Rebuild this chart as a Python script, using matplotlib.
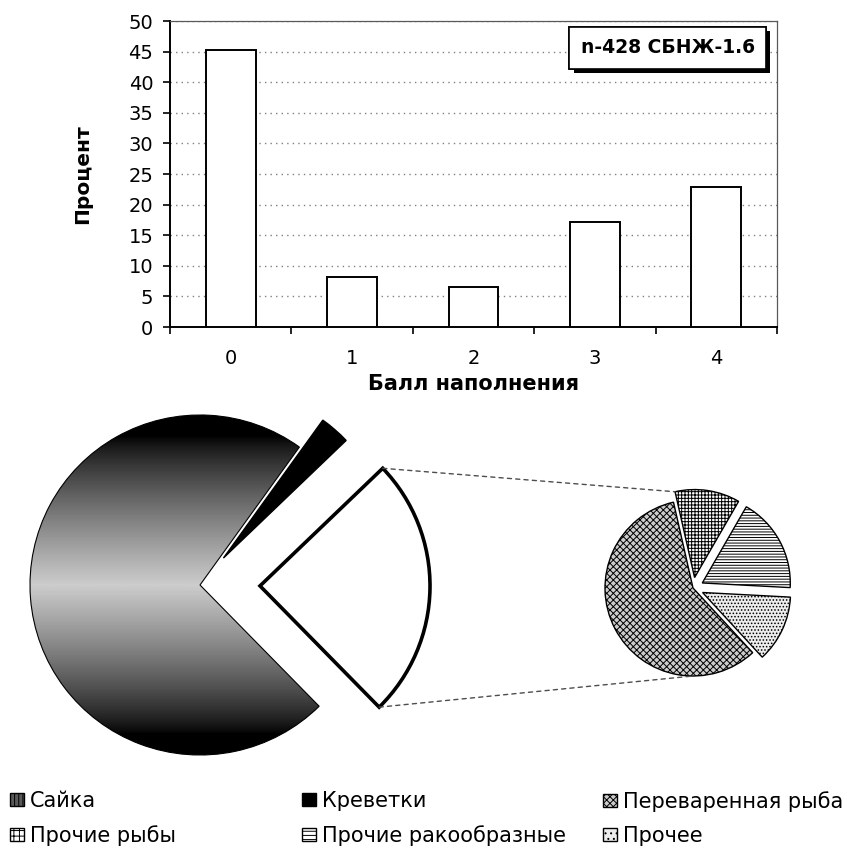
import numpy as np
import matplotlib.pyplot as plt
from matplotlib.patches import Patch, ConnectionPatch
import matplotlib.patheffects as pe

plt.rcParams['font.family'] = ['DejaVu Sans']
plt.rcParams['hatch.linewidth'] = 0.7

# гистограмма: балл наполнения желудков
bally = [0, 1, 2, 3, 4]
procent = [45.3, 8.1, 6.6, 17.2, 22.9]
podpis = 'n-428 СБНЖ-1.6'

# основной круг
main_labels = ['Сайка', 'Креветки', 'Прочие']
main_vals = [72.3, 2.9, 24.8]

# вторичный круг (разбивка сектора "Прочие")
sub_labels = ['Переваренная рыба', 'Прочие рыбы', 'Прочие ракообразные', 'Прочее']
sub_vals = [58.3, 11.9, 17.5, 12.3]

W, H = 846, 855
fig = plt.figure(figsize=(W / 100, H / 100), dpi=100)


def box(x0, y0, x1, y1):
    # прямоугольник в пикселях (отсчёт сверху) -> доли фигуры
    return [x0 / W, 1 - y1 / H, (x1 - x0) / W, (y1 - y0) / H]


# ---- столбики ----
ax = fig.add_axes(box(170, 21, 777, 327))
ax.bar(bally, procent, width=0.41, color='white', edgecolor='black', linewidth=1.4, zorder=3)
ax.set_xlim(-0.5, 4.5)
ax.set_ylim(0, 50)
ax.set_yticks(range(0, 51, 5))
ax.set_xticks(np.arange(-0.5, 5, 1))
ax.set_xticklabels([])
ax.set_xticks(bally, minor=True)
ax.set_xticklabels([str(b) for b in bally], minor=True)
ax.tick_params(axis='x', which='minor', length=0, pad=16, labelsize=14)
ax.tick_params(axis='x', which='major', length=5, width=1.2, direction='out')
ax.tick_params(axis='y', length=5, width=1.2, pad=7, labelsize=14)
ax.yaxis.grid(True, linestyle=(0, (1, 3)), color='0.5', linewidth=1)
ax.set_axisbelow(True)
for s in ['left', 'bottom']:
    ax.spines[s].set_linewidth(1.4)
for s in ['top', 'right']:
    ax.spines[s].set_linewidth(0.9)
    ax.spines[s].set_color('0.35')
ax.set_ylabel('Процент', fontsize=14.5, fontweight='bold')
ax.yaxis.set_label_coords(-0.128, 0.5)
ax.set_xlabel('Балл наполнения', fontsize=15, fontweight='bold')
ax.xaxis.set_label_coords(0.5, -0.155)

t = ax.text(0.82, 0.912, podpis, transform=ax.transAxes, ha='center', va='center',
            fontsize=13.5, fontweight='bold',
            bbox=dict(boxstyle='square,pad=0.6', fc='white', ec='black', lw=1.2))
t.get_bbox_patch().set_path_effects([
    pe.withSimplePatchShadow(offset=(3, -3), shadow_rgbFace='black', alpha=1.0),
    pe.Normal()])

# ---- основной круг ----
pa = fig.add_axes(box(0, 395, 460, 770))
wedges, _ = pa.pie(main_vals, radius=1, startangle=-45.5, counterclock=False,
                   explode=[0, 0.21, 0.353],
                   colors=['none', 'black', 'white'],
                   wedgeprops=dict(edgecolor='black', linewidth=1))
wedges[0].set_linewidth(0.8)
wedges[2].set_linewidth(2.6)
pa.set_xlim(-200 / 170, 260 / 170)
pa.set_ylim(-185 / 170, 190 / 170)
pa.set_aspect('equal')
pa.axis('off')

# градиент сектора "Сайка"
yy = np.linspace(-1, 1, 300)
grad = 0.8 * np.clip(1 - np.abs(yy) / 0.88, 0, 1) ** 0.8
img = np.tile(grad[:, None], (1, 10))
im = pa.imshow(img, extent=(-1, 1, -1, 1), origin='lower', cmap='gray',
               vmin=0, vmax=1, aspect='auto', zorder=0)
im.set_clip_path(wedges[0])

# ---- вторичный круг ----
sa = fig.add_axes(box(560, 470, 846, 720))
sw, _ = sa.pie(sub_vals, radius=1, startangle=-47.3, counterclock=False,
               explode=[0, 0.12, 0.12, 0.12],
               colors=['white', 'white', 'white', 'white'],
               hatch=['xxxxx', '+++++', '------', '.....'],
               wedgeprops=dict(edgecolor='black', linewidth=1))
sw[0].set_facecolor('0.8')
sw[3].set_facecolor('0.93')
sa.set_xlim(-133 / 88, 153 / 88)
sa.set_ylim(-132 / 88, 118 / 88)
sa.set_aspect('equal')
sa.axis('off')


def point(w, ang):
    a = np.radians(ang)
    return (w.center[0] + w.r * np.cos(a), w.center[1] + w.r * np.sin(a))


wo = wedges[2]
for a_main, w_sub, a_sub in [(wo.theta2, sw[1], sw[1].theta2), (wo.theta1, sw[0], -90)]:
    cp = ConnectionPatch(point(wo, a_main), point(w_sub, a_sub),
                         coordsA=pa.transData, coordsB=sa.transData,
                         linestyle=(0, (3, 3)), color='0.3', linewidth=1)
    fig.add_artist(cp)

# ---- легенда ----
handles = [
    Patch(fc='0.35', ec='black', hatch='||||', label=main_labels[0]),
    Patch(fc='black', ec='black', label=main_labels[1]),
    Patch(fc='0.8', ec='black', hatch='xxxxx', label=sub_labels[0]),
    Patch(fc='white', ec='black', hatch='+++', label=sub_labels[1]),
    Patch(fc='white', ec='black', hatch='----', label=sub_labels[2]),
    Patch(fc='0.93', ec='black', hatch='...', label=sub_labels[3]),
]
cols = [(handles[0], handles[3]), (handles[1], handles[4]), (handles[2], handles[5])]
for x0, hs in zip([10, 302, 603], cols):
    fig.legend(handles=list(hs), loc='upper left', bbox_to_anchor=(x0 / W, 1 - 791 / H),
               frameon=False, fontsize=15, borderpad=0, borderaxespad=0,
               handlelength=0.65, handleheight=0.62, handletextpad=0.3, labelspacing=0.68)

fig.savefig('out.png', dpi=100)
